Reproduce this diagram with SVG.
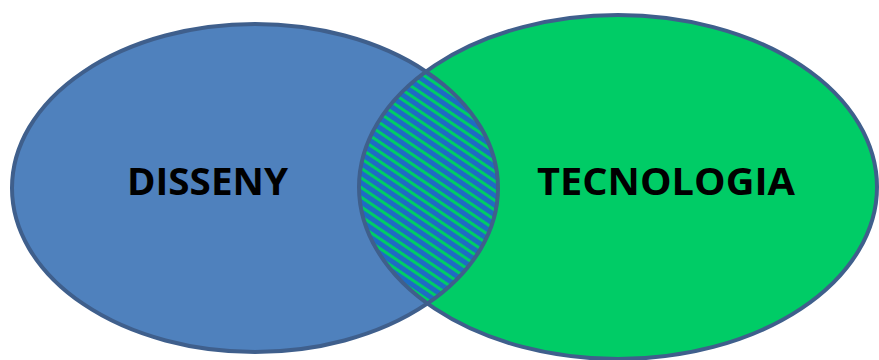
<svg xmlns="http://www.w3.org/2000/svg" width="879" height="360" viewBox="0 0 879 360">
<style>
.outline{fill:none;stroke:#3F5F8C;stroke-width:4}
.label{font-family:"Open Sans","Liberation Sans",sans-serif;font-weight:bold;font-size:38px;fill:#000;text-anchor:middle}
</style>
<defs>
<clipPath id="clipBlue"><ellipse cx="255" cy="188" rx="243" ry="164"/></clipPath>
<pattern id="hatch" width="8" height="8" patternUnits="userSpaceOnUse" patternTransform="rotate(34)">
<rect width="8" height="8" fill="#1E6BC4"/>
<rect y="0" width="8" height="3" fill="#00CC66"/>
</pattern>
</defs>
<rect width="879" height="360" fill="#fff"/>
<g id="disseny">
<ellipse cx="255" cy="188" rx="243" ry="164" fill="#4F81BD"/>
</g>
<g id="tecnologia">
<ellipse cx="618" cy="187" rx="259" ry="172" fill="#00CC66"/>
</g>
<g id="intersection">
<ellipse cx="618" cy="187" rx="259" ry="172" fill="url(#hatch)" clip-path="url(#clipBlue)"/>
</g>
<g id="outlines">
<ellipse class="outline" cx="255" cy="188" rx="243" ry="164"/>
<ellipse class="outline" cx="618" cy="187" rx="259" ry="172"/>
</g>
<g id="labels">
<text class="label" x="207.5" y="195" textLength="161" lengthAdjust="spacingAndGlyphs">DISSENY</text>
<text class="label" x="666" y="195" textLength="258" lengthAdjust="spacingAndGlyphs">TECNOLOGIA</text>
</g>
</svg>
